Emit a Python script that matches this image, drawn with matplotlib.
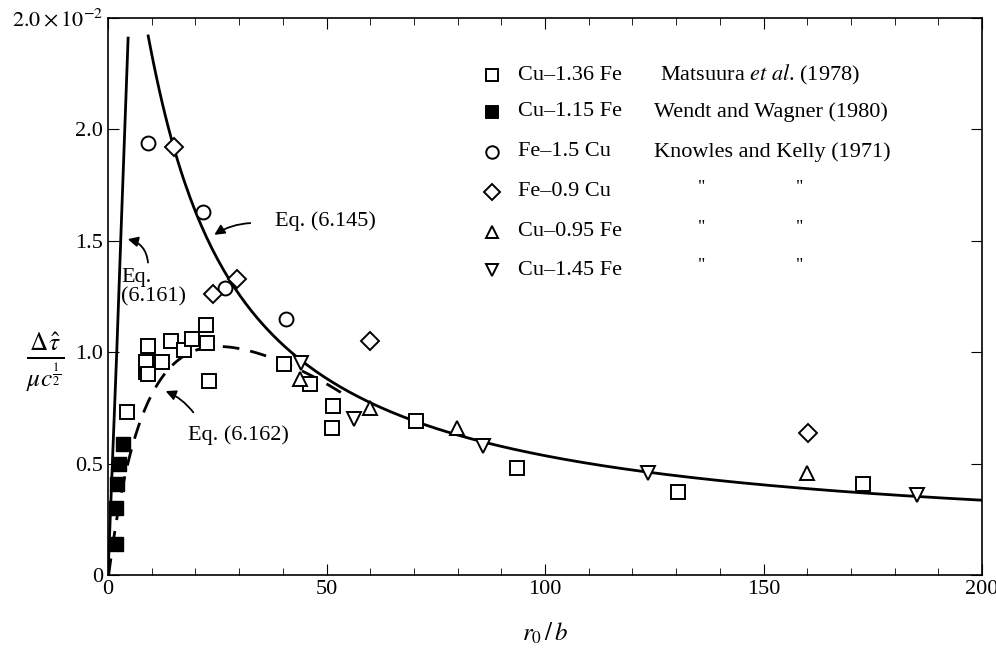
import numpy as np
import matplotlib.pyplot as plt
from matplotlib.ticker import MultipleLocator

plt.rcParams['font.family'] = ['Liberation Serif', 'DejaVu Serif']
plt.rcParams['mathtext.fontset'] = 'stix'

# open squares, Cu-1.36 Fe (Matsuura et al. 1978)
sq_x = [4.3, 8.7, 8.7, 9.2, 9.2, 12.4, 14.4, 17.4, 19.2, 22.4, 22.7, 23.1,
        40.3, 46.2, 51.5, 51.3, 70.5, 93.6, 130.4, 172.8]
sq_y = [0.73, 0.91, 0.955, 1.03, 0.90, 0.955, 1.05, 1.01, 1.06, 1.12, 1.04, 0.87,
        0.946, 0.856, 0.758, 0.66, 0.69, 0.48, 0.372, 0.41]
# filled squares, Cu-1.15 Fe
fsq_x = [1.8, 1.8, 2.1, 2.5, 3.4]
fsq_y = [0.14, 0.30, 0.41, 0.50, 0.59]
# circles, Fe-1.5 Cu
ci_x = [9.2, 21.7, 26.8, 40.7]
ci_y = [1.94, 1.63, 1.29, 1.15]
# diamonds, Fe-0.9 Cu
di_x = [15.1, 24.0, 29.5, 60.0, 160.2]
di_y = [1.92, 1.26, 1.33, 1.05, 0.637]
# up triangles, Cu-0.95 Fe
ut_x = [43.9, 60.0, 79.9, 160.0]
ut_y = [0.88, 0.75, 0.66, 0.46]
# down triangles, Cu-1.45 Fe
dt_x = [44.2, 56.3, 85.8, 123.6, 185.1]
dt_y = [0.95, 0.70, 0.58, 0.46, 0.36]

# theory curves
e145_x = [9.2, 12, 15.3, 19, 23.3, 28.6, 36.4, 42.3, 51.5, 59.3, 78.3, 100, 124, 150, 175, 200]
e145_y = [2.40, 2.13, 1.92, 1.71, 1.52, 1.31, 1.11, 0.98, 0.84, 0.74, 0.64, 0.55, 0.47, 0.42, 0.37, 0.32]
e161_x = [0, 1, 2, 3, 4.6]
e161_y = [0, 0.5, 1.0, 1.55, 2.41]
e162_x = [0, 1, 2, 3.9, 7.3, 11.9, 15, 18.8, 22, 26.8, 32, 37, 46, 54]
e162_y = [0, 0.13, 0.25, 0.43, 0.70, 0.87, 0.95, 1.00, 1.015, 1.02, 1.01, 0.98, 0.90, 0.81]

# smooth the read-off curves for drawing
c145 = np.polyfit(np.log(e145_x), np.log(e145_y), 3)
x145 = np.linspace(e145_x[0], e145_x[-1], 300)
y145 = np.exp(np.polyval(c145, np.log(x145)))
c162 = np.polyfit(np.sqrt(e162_x), e162_y, 5)
x162 = np.linspace(0, e162_x[-1], 300)
y162 = np.polyval(c162, np.sqrt(x162))

fig = plt.figure(figsize=(9.96, 6.6), dpi=100)
ax = fig.add_axes([108/996, 1-575/660, (982-108)/996, (575-18)/660])

ax.plot(x145, y145, 'k-', lw=2)
ax.plot(e161_x, e161_y, 'k-', lw=2)
ax.plot(x162, y162, 'k--', lw=2, dashes=(6, 4))

mk = dict(ms=10, mew=1.4, ls='none', color='k', mfc='white', clip_on=False)
ax.plot(sq_x, sq_y, 's', **mk)
ax.plot(fsq_x, fsq_y, 's', ms=10, ls='none', color='k', clip_on=False)
ax.plot(ci_x, ci_y, 'o', **mk)
ax.plot(di_x, di_y, 'D', **dict(mk, ms=9))
ax.plot(ut_x, ut_y, '^', **mk)
ax.plot(dt_x, dt_y, 'v', **mk)

ax.set_xlim(0, 200)
ax.set_ylim(0, 2.5)
ax.xaxis.set_major_locator(MultipleLocator(50))
ax.xaxis.set_minor_locator(MultipleLocator(10))
ax.set_yticks([0, 0.5, 1.0, 1.5, 2.0, 2.5])
ax.set_yticklabels(['0', '0.5', '1.0', '1.5', '2.0', r'$2.0\times10^{-2}$'])
ax.tick_params(which='both', direction='in', top=True, right=True, labelsize=16)
ax.tick_params(which='major', length=8)
ax.tick_params(which='minor', length=5)
for s in ax.spines.values():
    s.set_linewidth(1.2)

ax.set_xlabel(r'$r_0\,/\,b$', fontsize=18, labelpad=16)
fig.text(0.045, 0.45, r'$\frac{\Delta\hat{\tau}}{\mu c^{\frac{1}{2}}}$', fontsize=26,
         ha='center', va='center')

# annotations
ap = dict(arrowstyle='-|>', color='k', lw=1.3, mutation_scale=15)
ax.annotate('', xy=(23.8, 1.52), xytext=(33.2, 1.58),
            arrowprops=dict(ap, connectionstyle='arc3,rad=0.15'))
ax.text(38.2, 1.59, 'Eq. (6.145)', fontsize=16, va='center')
ax.annotate('', xy=(3.9, 1.51), xytext=(9.2, 1.39),
            arrowprops=dict(ap, connectionstyle='arc3,rad=0.4'))
ax.text(3.0, 1.29, 'Eq.\n(6.161)', fontsize=16, va='center', linespacing=1.0)
ax.annotate('', xy=(12.6, 0.83), xytext=(19.9, 0.72),
            arrowprops=dict(ap, connectionstyle='arc3,rad=0.15'))
ax.text(18.3, 0.63, 'Eq. (6.162)', fontsize=16, va='center')

# legend table drawn as text
rows = [('s', 'white', 'Cu\u20131.36 Fe', r'Matsuura $\it{et\ al}$. (1978)'),
        ('s', 'k', 'Cu\u20131.15 Fe', 'Wendt and Wagner (1980)'),
        ('o', 'white', 'Fe\u20131.5 Cu', 'Knowles and Kelly (1971)'),
        ('D', 'white', 'Fe\u20130.9 Cu', None),
        ('^', 'white', 'Cu\u20130.95 Fe', None),
        ('v', 'white', 'Cu\u20131.45 Fe', None)]
ys = [75, 112, 152, 192, 232, 270]
for (m, fc, lab, src), py in zip(rows, ys):
    yf = 1 - py/660
    fig.lines.append(plt.Line2D([492/996], [yf], marker=m, ms=9 if m != 'D' else 8,
                                mfc=fc, mec='k', mew=1.4, ls='none',
                                transform=fig.transFigure))
    fig.text(518/996, yf, lab, fontsize=16, va='center')
    if src:
        x0 = 660 if src.startswith('Matsuura') else 654
        fig.text(x0/996, yf, src, fontsize=16, va='center')
    else:
        fig.text(698/996, yf + 0.006, '"', fontsize=13, va='center')
        fig.text(796/996, yf + 0.006, '"', fontsize=13, va='center')

fig.savefig('out.png', dpi=100)
